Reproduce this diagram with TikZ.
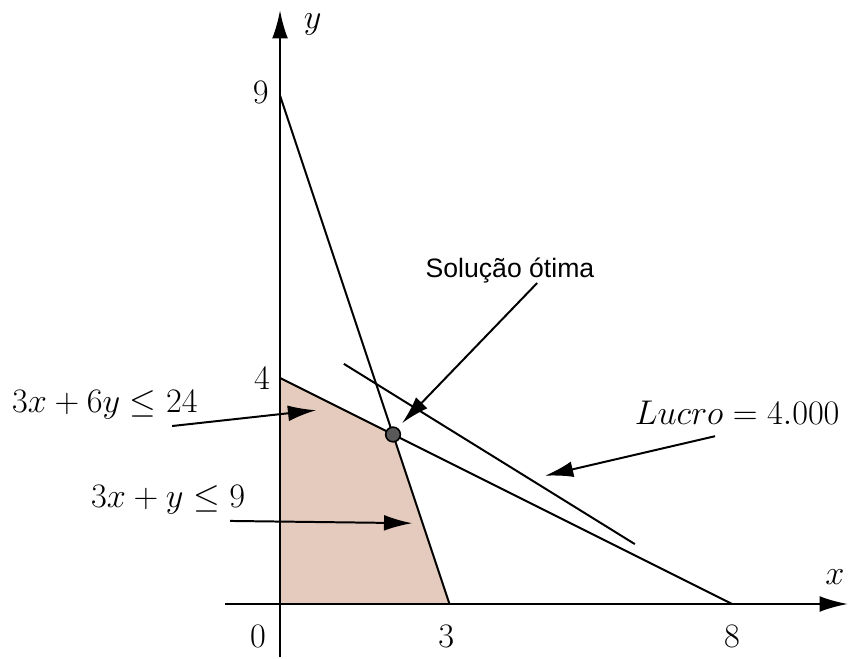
\documentclass[tikz,border=0pt]{standalone}
\usepackage{fontspec}
\newfontfamily\labelfont{Liberation Sans}
\usepackage{tikz}
\usetikzlibrary{arrows.meta,positioning}

\definecolor{regiao}{HTML}{E5CBBD}

\begin{document}
\begin{tikzpicture}[
        font=\fontsize{17}{20}\selectfont,
        >=Latex,
        eixo/.style={draw=black, line width=1.1pt, -{Latex[length=5mm,width=2.8mm]}},
        reta/.style={draw=black, line width=1pt},
        seta/.style={draw=black, line width=1pt, -{Latex[length=5mm,width=2.8mm]}},
        ponto/.style={circle, draw=black, fill=black!65, line width=0.8pt, inner sep=0pt, minimum size=2.6mm},
        rotulo/.style={inner sep=1pt}
    ]
        \useasboundingbox (-4.956,-0.956) rectangle (10.07,10.69);

        % vertices
        \coordinate (O) at (0,0);
        \coordinate (A) at (0,9);
        \coordinate (B) at (3,0);
        \coordinate (C) at (0,4);
        \coordinate (D) at (8,0);

        % feasible region
        \fill[regiao] (O) -- (C) -- (2,3) -- (B) -- cycle;

        % axes
        \coordinate (xini) at (-0.97,0);
        \coordinate (xfim) at (10.05,0);
        \coordinate (yini) at (0,-0.94);
        \coordinate (yfim) at (0,10.51);
        \draw[eixo] (xini) -- (xfim);
        \draw[eixo] (yini) -- (yfim);

        \node[rotulo] (lx) at (9.82,0.48) {$x$};
        \node[rotulo] (ly) at (0.58,10.25) {$y$};
        \node[rotulo] (l0) at (-0.39,-0.57) {$0$};
        \node[rotulo] (l3) at (2.94,-0.57) {$3$};
        \node[rotulo] (l8) at (8,-0.57) {$8$};
        \node[rotulo] (l9) at (-0.34,9.06) {$9$};
        \node[rotulo] (l4) at (-0.32,4.0) {$4$};

        % constraints and objective
        \draw[reta] (A) -- (B);
        \draw[reta] (C) -- (D);
        \coordinate (L1) at (1.13,4.25);
        \coordinate (L2) at (6.28,1.06);
        \draw[reta] (L1) -- (L2);

        \node[ponto] (P) at (2,3) {};

        % labels
        \node[rotulo] (r1) at (-3.10,3.52) {$3x+6y\leq 24$};
        \node[rotulo] (r2) at (-1.98,1.84) {$3x+y\leq 9$};
        \node[rotulo, font=\labelfont\fontsize{13.4}{16}\selectfont] (otima) at (4.07,5.91) {Solução ótima};
        \node[rotulo] (lucro) at (8.09,3.38) {$Lucro=4.000$};

        \coordinate (s1a) at (-1.91,3.15);
        \coordinate (s1b) at (0.64,3.43);
        \coordinate (s2a) at (-0.885,1.47);
        \coordinate (s2b) at (2.34,1.43);
        \coordinate (s3a) at (4.55,5.68);
        \coordinate (s3b) at (2.16,3.20);
        \coordinate (s4a) at (7.70,2.97);
        \coordinate (s4b) at (4.69,2.27);

        \draw[seta] (s1a) -- (s1b);
        \draw[seta] (s2a) -- (s2b);
        \draw[seta] (s3a) -- (s3b);
        \draw[seta] (s4a) -- (s4b);
    \end{tikzpicture}
\end{document}
